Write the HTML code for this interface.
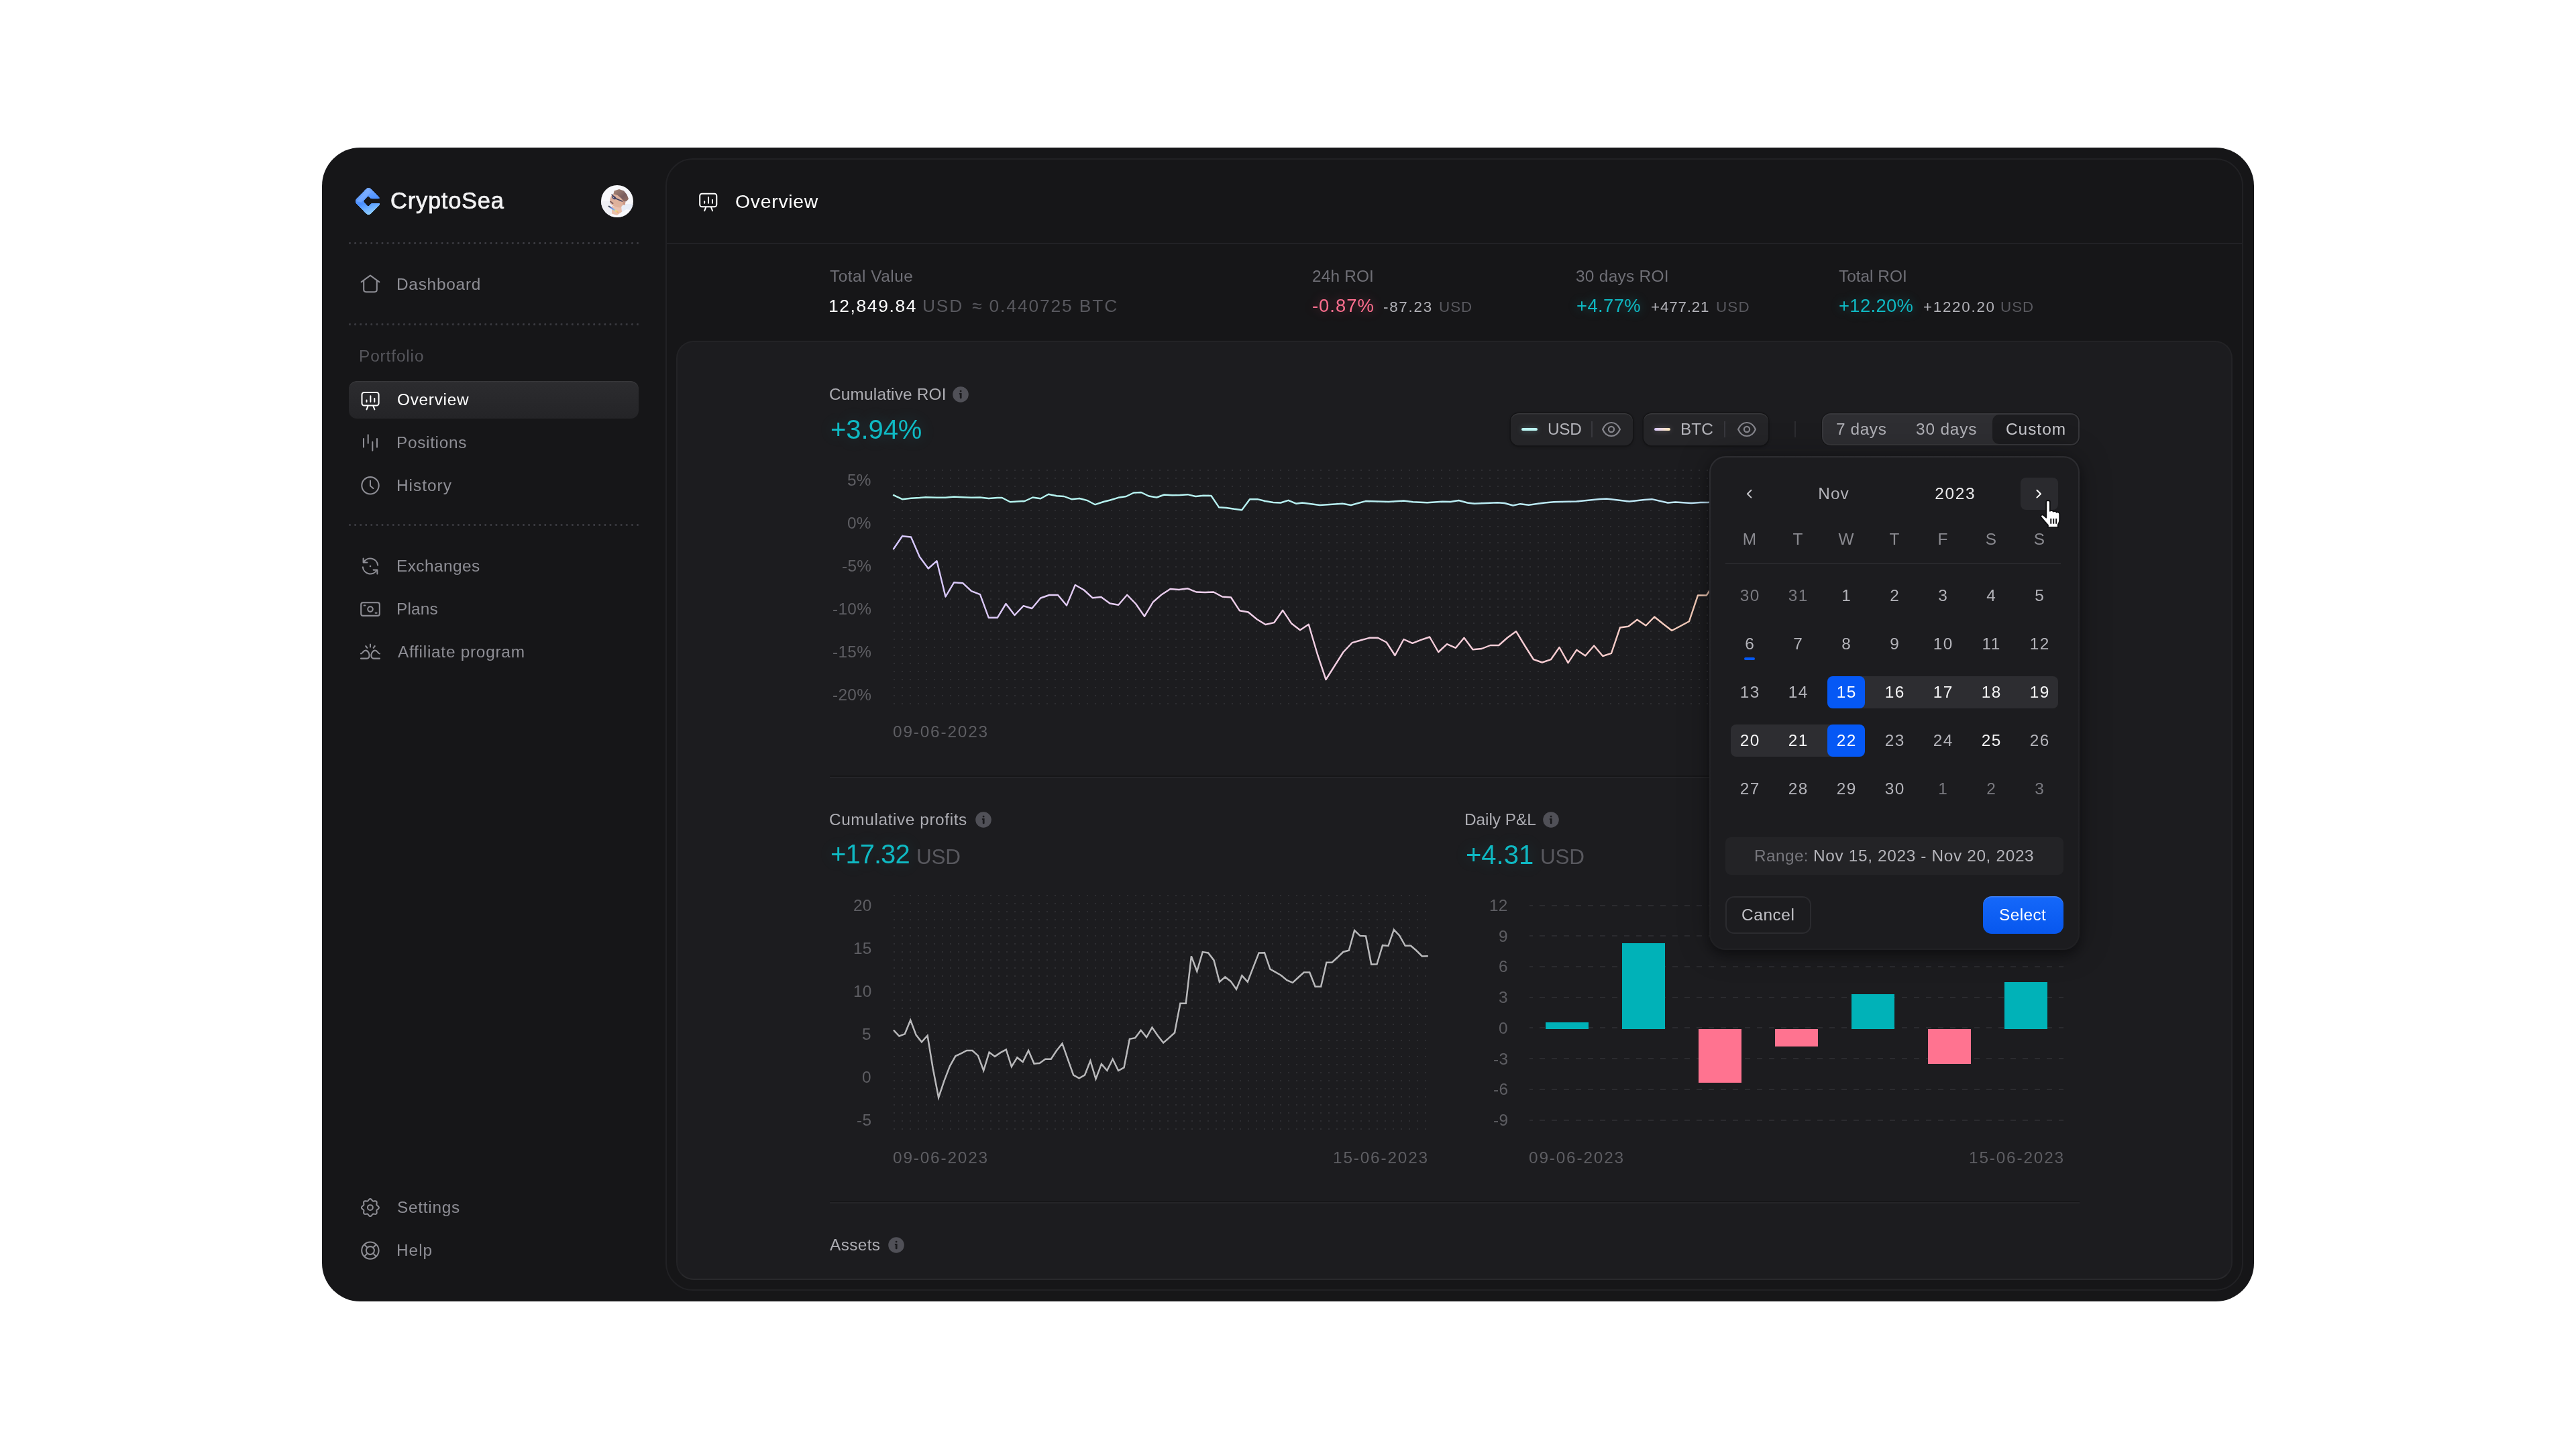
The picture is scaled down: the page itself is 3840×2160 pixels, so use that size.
<!DOCTYPE html>
<html lang="en"><head><meta charset="utf-8"><title>CryptoSea – Overview</title>
<style>
html,body{margin:0;padding:0}
body{width:3840px;height:2160px;background:#fff;position:relative;overflow:hidden;font-family:"Liberation Sans", sans-serif;-webkit-font-smoothing:antialiased}
svg{position:absolute;overflow:visible}
.ic{fill:none;stroke:#8e8e95;stroke-width:2.05;stroke-linecap:round;stroke-linejoin:round}
</style></head><body>
<div style="position:absolute;left:480.0px;top:220.0px;width:2880.0px;height:1720.0px;border-radius:57px;background:#161618;"></div>
<svg style="left:0;top:0" width="3840" height="2160">
<defs><linearGradient id="lg1" gradientUnits="userSpaceOnUse" x1="542" y1="280" x2="556" y2="321"><stop offset="0" stop-color="#7aacff"/><stop offset="0.5" stop-color="#4a8fff"/><stop offset="1" stop-color="#9ad8ff"/></linearGradient>
<filter id="rnd" x="-10%" y="-10%" width="120%" height="120%"><feGaussianBlur stdDeviation="1.1"/><feComponentTransfer><feFuncR type="linear" slope="7" intercept="-3"/><feFuncG type="linear" slope="7" intercept="-3"/><feFuncB type="linear" slope="7" intercept="-3"/></feComponentTransfer></filter>
<mask id="lm" maskUnits="userSpaceOnUse" x="520" y="270" width="60" height="60"><g filter="url(#rnd)"><rect x="520" y="270" width="60" height="60" fill="#000"/>
<path d="M544.92 281.92 Q549.30 277.40 553.68 281.92 L566.82 295.48 Q571.20 300.00 566.82 304.52 L553.68 318.08 Q549.30 322.60 544.92 318.08 L531.78 304.52 Q527.40 300.00 531.78 295.48 Z" fill="#fff"/><path d="M548.76 292.36 Q548.90 292.20 549.04 292.36 L555.96 299.94 Q556.10 300.10 555.96 300.26 L549.04 307.84 Q548.90 308.00 548.76 307.84 L541.84 300.26 Q541.70 300.10 541.84 299.94 Z" fill="#000"/><rect x="552" y="296.6" width="20" height="6.4" fill="#000"/></g></mask></defs>
<rect x="524" y="274" width="50" height="52" fill="url(#lg1)" mask="url(#lm)"/>
<path d="M531.5 300 L548.6 281.6 L553 286.4 L538.6 301.8 Z" fill="#9cc2ff" opacity="0.35" mask="url(#lm)"/>
</svg>
<div id="t1" style="position:absolute;will-change:transform;top:269.0px;height:60px;line-height:60px;font-size:34.50px;color:#f3f3f4;white-space:pre;letter-spacing:0.750px;left:581.50px;-webkit-text-stroke:0.7px #f3f3f4;">CryptoSea</div>
<svg style="left:896px;top:276px" width="48" height="48" viewBox="0 0 48 48">
<defs><clipPath id="avc"><circle cx="24" cy="24" r="24"/></clipPath>
<filter id="avb" x="-10%" y="-10%" width="120%" height="120%"><feGaussianBlur stdDeviation="0.75"/></filter>
<linearGradient id="avh" x1="0" y1="0" x2="1" y2="1"><stop offset="0" stop-color="#a07a66"/><stop offset="0.6" stop-color="#6a4a48"/><stop offset="1" stop-color="#8a5e4e"/></linearGradient>
<linearGradient id="avr" gradientUnits="userSpaceOnUse" x1="11.5" y1="31.5" x2="25" y2="40.5"><stop offset="0" stop-color="#2a2a34"/><stop offset="0.3" stop-color="#5a78e0"/><stop offset="0.55" stop-color="#6ab0e8"/><stop offset="0.75" stop-color="#e6e070"/><stop offset="1" stop-color="#f0a860"/></linearGradient></defs>
<g clip-path="url(#avc)"><rect width="48" height="48" fill="#f7f7fa"/>
<g filter="url(#avb)" opacity="0.88">
<rect x="-2" y="24" width="20" height="26" fill="#eeeef3"/>
<rect x="30" y="28" width="20" height="22" fill="#e6ecf6"/>
<path d="M16 31 L24 32.5 L30 31 L31 40 L24 45 L16 45 Z" fill="#e9b9a2"/>
<path d="M15 16 L19 12.5 L24 13.5 L30 17 L34 22 L34 28 L29 33.5 L24 33 L19 31.5 L14 27.5 L13 22 Z" fill="#dba88f"/>
<path d="M19.5 8.5 L27 6 L34 8.5 L38.5 14 L41 20.5 L38 24 L34.5 25 L30 19.5 L24.5 15 L18.5 13.2 Z" fill="url(#avh)"/>
<path d="M32.5 23.5 L36.5 25 L35.5 30 L32.5 29 Z" fill="#c48a74"/>
<ellipse cx="19.3" cy="18.6" rx="3.3" ry="2.2" transform="rotate(35 19.3 18.6)" fill="#34325a"/><ellipse cx="19.0" cy="18.2" rx="1.3" ry="0.9" transform="rotate(35 19 18.2)" fill="#c8cce0"/>
<path d="M16.2 14.2 L21 19.5 L31.5 24" fill="none" stroke="#2c2a4a" stroke-width="1.7" stroke-linecap="round"/>
<path d="M14 24.6 L17.6 27.2" stroke="#6a4444" stroke-width="1.8" stroke-linecap="round"/>
<path d="M11 49 L16 42.5 L24 45 L31 40 L38 36 L49 38 L49 49 Z" fill="#fbfbfd"/>
<path d="M11.8 31.6 L25 40.4" stroke="url(#avr)" stroke-width="2.3" stroke-linecap="round"/>
</g></g></svg>
<div style="position:absolute;left:520.0px;top:361.0px;width:433.0px;height:3.0px;background:radial-gradient(circle at 1.5px 1.5px,#3a3a40 0,#3a3a40 1.25px,rgba(58,58,64,0) 1.7px) 0 0/8.1px 3px repeat-x;"></div>
<div style="position:absolute;left:520.0px;top:481.5px;width:433.0px;height:3.0px;background:radial-gradient(circle at 1.5px 1.5px,#3a3a40 0,#3a3a40 1.25px,rgba(58,58,64,0) 1.7px) 0 0/8.1px 3px repeat-x;"></div>
<div style="position:absolute;left:520.0px;top:781.0px;width:433.0px;height:3.0px;background:radial-gradient(circle at 1.5px 1.5px,#3a3a40 0,#3a3a40 1.25px,rgba(58,58,64,0) 1.7px) 0 0/8.1px 3px repeat-x;"></div>
<div style="position:absolute;left:520.0px;top:568.0px;width:432.0px;height:56.0px;border-radius:12px;background:linear-gradient(180deg,#2c2c2f 0%,#242427 100%);box-shadow:inset 0 1.5px 0 rgba(255,255,255,0.06);"></div>
<div id="t2" style="position:absolute;will-change:transform;top:393.5px;height:60px;line-height:60px;font-size:24.40px;color:#8e8e95;white-space:pre;letter-spacing:0.750px;left:590.50px;">Dashboard</div>
<div id="t3" style="position:absolute;will-change:transform;top:501.0px;height:60px;line-height:60px;font-size:24.40px;color:#56565c;white-space:pre;letter-spacing:0.875px;left:535.00px;">Portfolio</div>
<div id="t4" style="position:absolute;will-change:transform;top:565.5px;height:60px;line-height:60px;font-size:24.40px;color:#ffffff;white-space:pre;letter-spacing:0.714px;left:591.50px;">Overview</div>
<div id="t5" style="position:absolute;will-change:transform;top:629.5px;height:60px;line-height:60px;font-size:24.40px;color:#8e8e95;white-space:pre;letter-spacing:0.675px;left:590.50px;">Positions</div>
<div id="t6" style="position:absolute;will-change:transform;top:693.5px;height:60px;line-height:60px;font-size:24.40px;color:#8e8e95;white-space:pre;letter-spacing:1.000px;left:590.50px;">History</div>
<div id="t7" style="position:absolute;will-change:transform;top:813.5px;height:60px;line-height:60px;font-size:24.40px;color:#8e8e95;white-space:pre;letter-spacing:0.425px;left:590.50px;">Exchanges</div>
<div id="t8" style="position:absolute;will-change:transform;top:877.5px;height:60px;line-height:60px;font-size:24.40px;color:#8e8e95;white-space:pre;letter-spacing:0.200px;left:590.50px;">Plans</div>
<div id="t9" style="position:absolute;will-change:transform;top:941.5px;height:60px;line-height:60px;font-size:24.40px;color:#8e8e95;white-space:pre;letter-spacing:0.738px;left:592.50px;">Affiliate program</div>
<div id="t10" style="position:absolute;will-change:transform;top:1769.5px;height:60px;line-height:60px;font-size:24.40px;color:#8e8e95;white-space:pre;letter-spacing:0.714px;left:592.00px;">Settings</div>
<div id="t11" style="position:absolute;will-change:transform;top:1833.5px;height:60px;line-height:60px;font-size:24.40px;color:#8e8e95;white-space:pre;letter-spacing:1.000px;left:591.00px;">Help</div>
<svg style="left:0;top:0" width="3840" height="2160"><path class="ic" d="M538.6 420.4 L552 410.6 L565.4 420.4"/><path class="ic" d="M542.2 418.6 V431.6 Q542.2 435.2 545.8 435.2 H558.2 Q561.8 435.2 561.8 431.6 V418.6"/><path class="ic" d="M542 654 V666.6 M548.7 648.2 V660.8 M555.3 658.8 V671.6 M562 654 V666.6"/><circle class="ic" cx="552" cy="723.8" r="12.7"/><path class="ic" d="M552 716.6 V724.2 L556.4 728"/><path class="ic" d="M542.2 838.2 A11.3 11.3 0 0 1 563.2 842.6"/><path class="ic" d="M561.8 849.8 A11.3 11.3 0 0 1 540.8 845.4"/><path class="ic" d="M541.6 832.6 V838.4 H547.4"/><path class="ic" d="M562.4 855.4 V849.6 H556.6"/><circle cx="552" cy="844" r="1.3" fill="#8e8e95"/><rect class="ic" x="538.2" y="898.3" width="27.6" height="19.6" rx="3"/><circle class="ic" cx="552" cy="908.1" r="3.8"/><path class="ic" d="M542.6 902.4 H544.4 M559.6 913.8 H561.6"/><path class="ic" d="M552 960.4 V964.4 M545.2 963 L547.4 965.8 M558.8 963 L556.6 965.8"/><path class="ic" d="M538 974.4 C540.5 974.6 541.2 969.6 545 969.6 C547.2 969.6 548.6 971.2 549.6 973 C551.4 976.6 551 981.6 546.4 981.6 H538"/><path class="ic" d="M566 974.4 C563.5 974.6 562.8 969.6 559 969.6 C556.8 969.6 555.4 971.2 554.4 973 C552.6 976.6 553 981.6 557.6 981.6 H566"/><path class="ic" d="M551.90 1787.10 L552.74 1787.30 L553.51 1787.86 L554.18 1788.62 L554.76 1789.43 L555.30 1790.09 L555.88 1790.49 L556.58 1790.62 L557.42 1790.53 L558.40 1790.37 L559.42 1790.30 L560.36 1790.46 L561.09 1790.91 L561.54 1791.64 L561.70 1792.58 L561.63 1793.60 L561.47 1794.57 L561.38 1795.42 L561.51 1796.12 L561.91 1796.70 L562.57 1797.24 L563.38 1797.82 L564.14 1798.49 L564.70 1799.26 L564.90 1800.10 L564.70 1800.94 L564.14 1801.71 L563.38 1802.38 L562.57 1802.96 L561.91 1803.50 L561.51 1804.08 L561.38 1804.78 L561.47 1805.62 L561.63 1806.60 L561.70 1807.62 L561.54 1808.56 L561.09 1809.29 L560.36 1809.74 L559.42 1809.90 L558.40 1809.83 L557.42 1809.67 L556.58 1809.58 L555.88 1809.71 L555.30 1810.11 L554.76 1810.77 L554.18 1811.58 L553.51 1812.34 L552.74 1812.90 L551.90 1813.10 L551.06 1812.90 L550.29 1812.34 L549.62 1811.58 L549.04 1810.77 L548.50 1810.11 L547.92 1809.71 L547.22 1809.58 L546.38 1809.67 L545.40 1809.83 L544.38 1809.90 L543.44 1809.74 L542.71 1809.29 L542.26 1808.56 L542.10 1807.62 L542.17 1806.60 L542.33 1805.62 L542.42 1804.78 L542.29 1804.08 L541.89 1803.50 L541.23 1802.96 L540.42 1802.38 L539.66 1801.71 L539.10 1800.94 L538.90 1800.10 L539.10 1799.26 L539.66 1798.49 L540.42 1797.82 L541.23 1797.24 L541.89 1796.70 L542.29 1796.12 L542.42 1795.42 L542.33 1794.57 L542.17 1793.60 L542.10 1792.58 L542.26 1791.64 L542.71 1790.91 L543.44 1790.46 L544.38 1790.30 L545.40 1790.37 L546.38 1790.53 L547.22 1790.62 L547.92 1790.49 L548.50 1790.09 L549.04 1789.43 L549.62 1788.62 L550.29 1787.86 L551.06 1787.30 L551.90 1787.10 Z"/><circle class="ic" cx="551.90" cy="1800.10" r="3.9"/><circle class="ic" cx="551.9" cy="1864.1" r="12.7"/><circle class="ic" cx="551.9" cy="1864.1" r="6"/><path class="ic" d="M543 1855.2 L547.6 1859.8 M560.8 1855.2 L556.2 1859.8 M543 1873 L547.6 1868.4 M560.8 1873 L556.2 1868.4"/></svg>
<svg style="left:0;top:0" width="3840" height="2160"><g fill="none" stroke="#ffffff" stroke-width="2.0" stroke-linecap="round" stroke-linejoin="round"><rect x="539.50" y="585.00" width="25.1" height="19.4" rx="3.2"/><path d="M546.50 596.40 v2.6 M552.35 590.20 v8.8 M558.30 594.10 v4.9 M548.50 605.40 l-2 5 M556.40 605.40 l2 5"/></g></svg>
<div style="position:absolute;left:992.0px;top:236.0px;width:2352.0px;height:1688.0px;box-sizing:border-box;border:2px solid #212124;border-radius:41px;background:#161618;"></div>
<div style="position:absolute;left:994.0px;top:362.0px;width:2348.0px;height:2.0px;background:#222225;"></div>
<svg style="left:0;top:0" width="3840" height="2160"><g fill="none" stroke="#ffffff" stroke-width="2.0" stroke-linecap="round" stroke-linejoin="round"><rect x="1043.20" y="288.80" width="25.1" height="19.4" rx="3.2"/><path d="M1050.20 300.20 v2.6 M1056.05 294.00 v8.8 M1062.00 297.90 v4.9 M1052.20 309.20 l-2 5 M1060.10 309.20 l2 5"/></g></svg>
<div id="t12" style="position:absolute;will-change:transform;top:270.4px;height:60px;line-height:60px;font-size:28.40px;color:#ffffff;white-space:pre;letter-spacing:0.714px;left:1096.00px;">Overview</div>
<div id="t13" style="position:absolute;will-change:transform;top:381.5px;height:60px;line-height:60px;font-size:24.40px;color:#6f6f76;white-space:pre;letter-spacing:0.500px;left:1237.00px;">Total Value</div>
<div id="t14" style="position:absolute;will-change:transform;top:426.4px;height:60px;line-height:60px;font-size:26.40px;color:#ffffff;white-space:pre;letter-spacing:1.625px;left:1235.00px;">12,849.84</div>
<div id="t15" style="position:absolute;will-change:transform;top:426.4px;height:60px;line-height:60px;font-size:26.40px;color:#58585e;white-space:pre;letter-spacing:1.800px;left:1375.00px;">USD</div>
<div id="t16" style="position:absolute;will-change:transform;top:426.4px;height:60px;line-height:60px;font-size:26.40px;color:#58585e;white-space:pre;letter-spacing:1.877px;left:1448.50px;">≈ 0.440725 BTC</div>
<div id="t17" style="position:absolute;will-change:transform;top:381.5px;height:60px;line-height:60px;font-size:24.40px;color:#6f6f76;white-space:pre;letter-spacing:0.167px;left:1956.00px;">24h ROI</div>
<div id="t18" style="position:absolute;will-change:transform;top:426.0px;height:60px;line-height:60px;font-size:27.40px;color:#ff6f8f;white-space:pre;letter-spacing:1.000px;left:1956.00px;text-shadow:0 0 16px rgba(255,90,130,0.35);">-0.87%</div>
<div id="t19" style="position:absolute;will-change:transform;top:427.6px;height:60px;line-height:60px;font-size:22.40px;color:#b2b2b8;white-space:pre;letter-spacing:1.720px;left:2062.00px;">-87.23</div>
<div id="t20" style="position:absolute;will-change:transform;top:427.6px;height:60px;line-height:60px;font-size:22.40px;color:#58585e;white-space:pre;letter-spacing:1.000px;left:2144.50px;">USD</div>
<div id="t21" style="position:absolute;will-change:transform;top:381.5px;height:60px;line-height:60px;font-size:24.40px;color:#6f6f76;white-space:pre;letter-spacing:0.300px;left:2348.50px;">30 days ROI</div>
<div id="t22" style="position:absolute;will-change:transform;top:426.0px;height:60px;line-height:60px;font-size:27.40px;color:#0fb9c3;white-space:pre;letter-spacing:0.400px;left:2349.50px;text-shadow:0 0 16px rgba(20,200,210,0.35);">+4.77%</div>
<div id="t23" style="position:absolute;will-change:transform;top:427.6px;height:60px;line-height:60px;font-size:22.40px;color:#b2b2b8;white-space:pre;letter-spacing:0.833px;left:2461.00px;">+477.21</div>
<div id="t24" style="position:absolute;will-change:transform;top:427.6px;height:60px;line-height:60px;font-size:22.40px;color:#58585e;white-space:pre;letter-spacing:1.200px;left:2557.80px;">USD</div>
<div id="t25" style="position:absolute;will-change:transform;top:381.5px;height:60px;line-height:60px;font-size:24.40px;color:#6f6f76;white-space:pre;left:2741.00px;">Total ROI</div>
<div id="t26" style="position:absolute;will-change:transform;top:426.0px;height:60px;line-height:60px;font-size:27.40px;color:#0fb9c3;white-space:pre;letter-spacing:0.333px;left:2740.50px;text-shadow:0 0 16px rgba(20,200,210,0.35);">+12.20%</div>
<div id="t27" style="position:absolute;will-change:transform;top:427.6px;height:60px;line-height:60px;font-size:22.40px;color:#b2b2b8;white-space:pre;letter-spacing:1.714px;left:2867.00px;">+1220.20</div>
<div id="t28" style="position:absolute;will-change:transform;top:427.6px;height:60px;line-height:60px;font-size:22.40px;color:#58585e;white-space:pre;letter-spacing:1.000px;left:2982.00px;">USD</div>
<div style="position:absolute;left:1008.0px;top:508.0px;width:2320.0px;height:1400.0px;box-sizing:border-box;border:2px solid #232326;border-bottom-color:#29292c;border-radius:26px;background:#1c1c1f;"></div>
<div id="t29" style="position:absolute;will-change:transform;top:558.0px;height:60px;line-height:60px;font-size:24.40px;color:#adadb3;white-space:pre;letter-spacing:0.185px;left:1236.00px;">Cumulative ROI</div>
<svg style="left:1419.8px;top:576.0px" width="24" height="24" viewBox="0 0 24 24"><circle cx="12" cy="12" r="11.8" fill="#505057"/><circle cx="12.1" cy="7.1" r="1.45" fill="#19191c"/><path d="M9.9 10 H13.6 V16.9 Q13.6 18.3 12.2 18.3 Q10.8 18.3 10.8 16.9 V12 H9.9 Z" fill="#19191c"/></svg>
<div id="t30" style="position:absolute;will-change:transform;top:609.5px;height:60px;line-height:60px;font-size:40.00px;color:#0fb9c3;white-space:pre;letter-spacing:-0.080px;left:1237.60px;text-shadow:0 0 24px rgba(20,200,210,0.22);">+3.94%</div>
<div id="t31" style="position:absolute;will-change:transform;top:1192.0px;height:60px;line-height:60px;font-size:24.40px;color:#adadb3;white-space:pre;letter-spacing:0.588px;left:1236.00px;">Cumulative profits</div>
<svg style="left:1453.9px;top:1210.0px" width="24" height="24" viewBox="0 0 24 24"><circle cx="12" cy="12" r="11.8" fill="#505057"/><circle cx="12.1" cy="7.1" r="1.45" fill="#19191c"/><path d="M9.9 10 H13.6 V16.9 Q13.6 18.3 12.2 18.3 Q10.8 18.3 10.8 16.9 V12 H9.9 Z" fill="#19191c"/></svg>
<div id="t32" style="position:absolute;will-change:transform;top:1243.4px;height:60px;line-height:60px;font-size:40.00px;color:#0fb9c3;white-space:pre;letter-spacing:-0.960px;left:1237.60px;text-shadow:0 0 24px rgba(20,200,210,0.22);">+17.32</div>
<div id="t33" style="position:absolute;will-change:transform;top:1246.5px;height:60px;line-height:60px;font-size:31.50px;color:#58585e;white-space:pre;letter-spacing:-0.200px;left:1366.40px;">USD</div>
<div id="t34" style="position:absolute;will-change:transform;top:1192.0px;height:60px;line-height:60px;font-size:24.40px;color:#adadb3;white-space:pre;letter-spacing:-0.050px;left:2183.00px;">Daily P&amp;L</div>
<svg style="left:2300.0px;top:1210.0px" width="24" height="24" viewBox="0 0 24 24"><circle cx="12" cy="12" r="11.8" fill="#505057"/><circle cx="12.1" cy="7.1" r="1.45" fill="#19191c"/><path d="M9.9 10 H13.6 V16.9 Q13.6 18.3 12.2 18.3 Q10.8 18.3 10.8 16.9 V12 H9.9 Z" fill="#19191c"/></svg>
<div id="t35" style="position:absolute;will-change:transform;top:1243.5px;height:60px;line-height:60px;font-size:40.00px;color:#0fb9c3;white-space:pre;left:2185.00px;text-shadow:0 0 24px rgba(20,200,210,0.22);">+4.31</div>
<div id="t36" style="position:absolute;will-change:transform;top:1246.5px;height:60px;line-height:60px;font-size:31.50px;color:#58585e;white-space:pre;letter-spacing:-0.300px;left:2295.50px;">USD</div>
<div id="t37" style="position:absolute;will-change:transform;top:1826.0px;height:60px;line-height:60px;font-size:24.40px;color:#adadb3;white-space:pre;letter-spacing:0.360px;left:1237.00px;">Assets</div>
<svg style="left:1323.6px;top:1844.0px" width="24" height="24" viewBox="0 0 24 24"><circle cx="12" cy="12" r="11.8" fill="#505057"/><circle cx="12.1" cy="7.1" r="1.45" fill="#19191c"/><path d="M9.9 10 H13.6 V16.9 Q13.6 18.3 12.2 18.3 Q10.8 18.3 10.8 16.9 V12 H9.9 Z" fill="#19191c"/></svg>
<div style="position:absolute;left:1237.0px;top:1156.0px;width:1863.0px;height:2.0px;background:#161618;"></div>
<div style="position:absolute;left:1237.0px;top:1158.0px;width:1863.0px;height:2.0px;background:#252528;"></div>
<div style="position:absolute;left:1237.0px;top:1790.0px;width:1863.0px;height:2.0px;background:#161618;"></div>
<div style="position:absolute;left:1237.0px;top:1792.0px;width:1863.0px;height:2.0px;background:#252528;"></div>
<div style="position:absolute;left:2252.0px;top:616.0px;width:182.0px;height:48.0px;border-radius:12px;background:#252528;box-shadow:0 0 0 1.5px #141416,inset 0 1.5px 0 rgba(255,255,255,0.09),0 2px 4px rgba(0,0,0,0.35);"></div>
<div style="position:absolute;left:2268.0px;top:638.0px;width:24.0px;height:4.0px;border-radius:2px;background:#bcf6f3;box-shadow:0 0 8px rgba(170,240,240,0.35);"></div>
<div id="t38" style="position:absolute;will-change:transform;top:610.0px;height:60px;line-height:60px;font-size:24.40px;color:#b4b4ba;white-space:pre;letter-spacing:-0.300px;left:2306.80px;">USD</div>
<div style="position:absolute;left:2372.0px;top:628.0px;width:2.0px;height:24.0px;background:#38383d;"></div>
<svg style="left:2387.0px;top:628.0px" width="30" height="24" viewBox="-15 -12 30 24"><g fill="none" stroke="#85858c" stroke-width="2.2" stroke-linejoin="round"><path d="M-12.9 0 C-10.4 -5.8 -5.6 -10 0 -10 C5.6 -10 10.4 -5.8 12.9 0 C10.4 5.8 5.6 10 0 10 C-5.6 10 -10.4 5.8 -12.9 0 Z"/><circle cx="0" cy="0" r="4.1"/></g></svg>
<div style="position:absolute;left:2450.0px;top:616.0px;width:186.0px;height:48.0px;border-radius:12px;background:#252528;box-shadow:0 0 0 1.5px #141416,inset 0 1.5px 0 rgba(255,255,255,0.09),0 2px 4px rgba(0,0,0,0.35);"></div>
<div style="position:absolute;left:2466.0px;top:638.0px;width:24.0px;height:4.0px;border-radius:2px;background:linear-gradient(90deg,#d9c9ff,#ffe9b8);box-shadow:0 0 8px rgba(240,220,230,0.3);"></div>
<div id="t39" style="position:absolute;will-change:transform;top:610.0px;height:60px;line-height:60px;font-size:24.40px;color:#b4b4ba;white-space:pre;left:2505.00px;">BTC</div>
<div style="position:absolute;left:2570.0px;top:628.0px;width:2.0px;height:24.0px;background:#38383d;"></div>
<svg style="left:2589.0px;top:628.0px" width="30" height="24" viewBox="-15 -12 30 24"><g fill="none" stroke="#85858c" stroke-width="2.2" stroke-linejoin="round"><path d="M-12.9 0 C-10.4 -5.8 -5.6 -10 0 -10 C5.6 -10 10.4 -5.8 12.9 0 C10.4 5.8 5.6 10 0 10 C-5.6 10 -10.4 5.8 -12.9 0 Z"/><circle cx="0" cy="0" r="4.1"/></g></svg>
<div style="position:absolute;left:2675.0px;top:628.0px;width:2.0px;height:24.0px;background:#2c2c30;"></div>
<div style="position:absolute;left:2716.0px;top:616.0px;width:384.0px;height:48.0px;box-sizing:border-box;border-radius:13px;background:#2e2e32;border:2px solid #37373b;box-shadow:0 0 0 1px #151517;"></div>
<div style="position:absolute;left:2970.0px;top:618.0px;width:128.0px;height:44.0px;border-radius:10px 11px 11px 10px;background:#1c1c1f;"></div>
<div id="t40" style="position:absolute;will-change:transform;top:610.0px;height:60px;line-height:60px;font-size:24.40px;color:#b0b0b6;white-space:pre;letter-spacing:0.600px;left:2737.00px;">7 days</div>
<div id="t41" style="position:absolute;will-change:transform;top:610.0px;height:60px;line-height:60px;font-size:24.40px;color:#b0b0b6;white-space:pre;letter-spacing:0.833px;left:2856.00px;">30 days</div>
<div id="t42" style="position:absolute;will-change:transform;top:610.0px;height:60px;line-height:60px;font-size:24.40px;color:#c8c8cd;white-space:pre;letter-spacing:1.000px;left:2989.50px;">Custom</div>
<div style="position:absolute;left:1332.0px;top:700.0px;width:1768.0px;height:351.0px;background:radial-gradient(circle at 1px 1px,#2e2e32 0,#2e2e32 0.9px,rgba(46,46,50,0) 1.4px) 0 0/12px 12px;"></div>
<div id="t43" style="position:absolute;will-change:transform;top:685.5px;height:60px;line-height:60px;font-size:24.40px;color:#5e5e63;white-space:pre;letter-spacing:0.300px;right:2541.0px;text-align:right;margin-right:-0.300px;">5%</div>
<div id="t44" style="position:absolute;will-change:transform;top:749.5px;height:60px;line-height:60px;font-size:24.40px;color:#5e5e63;white-space:pre;letter-spacing:0.300px;right:2541.0px;text-align:right;margin-right:-0.300px;">0%</div>
<div id="t45" style="position:absolute;will-change:transform;top:813.5px;height:60px;line-height:60px;font-size:24.40px;color:#5e5e63;white-space:pre;letter-spacing:0.300px;right:2541.0px;text-align:right;margin-right:-0.300px;">-5%</div>
<div id="t46" style="position:absolute;will-change:transform;top:877.5px;height:60px;line-height:60px;font-size:24.40px;color:#5e5e63;white-space:pre;letter-spacing:0.300px;right:2541.0px;text-align:right;margin-right:-0.300px;">-10%</div>
<div id="t47" style="position:absolute;will-change:transform;top:941.5px;height:60px;line-height:60px;font-size:24.40px;color:#5e5e63;white-space:pre;letter-spacing:0.300px;right:2541.0px;text-align:right;margin-right:-0.300px;">-15%</div>
<div id="t48" style="position:absolute;will-change:transform;top:1005.5px;height:60px;line-height:60px;font-size:24.40px;color:#5e5e63;white-space:pre;letter-spacing:0.300px;right:2541.0px;text-align:right;margin-right:-0.300px;">-20%</div>
<div id="t49" style="position:absolute;will-change:transform;top:1061.4px;height:60px;line-height:60px;font-size:24.40px;color:#5e5e63;white-space:pre;letter-spacing:1.822px;left:1331.00px;">09-06-2023</div>
<div id="t50" style="position:absolute;will-change:transform;top:1061.4px;height:60px;line-height:60px;font-size:24.40px;color:#5e5e63;white-space:pre;letter-spacing:1.822px;right:740.0px;text-align:right;margin-right:-1.822px;">15-06-2023</div>
<svg style="left:0;top:0" width="3840" height="2160"><defs>
<linearGradient id="gbtc" gradientUnits="userSpaceOnUse" x1="1332" y1="0" x2="2600" y2="0"><stop offset="0" stop-color="#d6c8ff"/><stop offset="0.45" stop-color="#f1cfe6"/><stop offset="0.8" stop-color="#f8ccd0"/><stop offset="1" stop-color="#f5cdb0"/></linearGradient>
<linearGradient id="gusd" gradientUnits="userSpaceOnUse" x1="1332" y1="0" x2="2600" y2="0"><stop offset="0" stop-color="#b4f5ee"/><stop offset="0.6" stop-color="#b8eef2"/><stop offset="1" stop-color="#bfe2f6"/></linearGradient></defs>
<path d="M1332.0 738.2 L1345.0 744.2 L1358.0 742.8 L1370.8 742.0 L1380.0 741.2 L1396.5 741.8 L1409.5 741.8 L1422.2 740.5 L1435.2 741.2 L1448.0 741.8 L1461.0 741.5 L1473.8 743.0 L1486.8 742.0 L1493.8 742.0 L1505.8 748.2 L1517.5 747.5 L1527.5 747.0 L1539.5 741.5 L1551.2 743.2 L1563.0 736.8 L1575.0 739.2 L1586.2 740.0 L1597.5 744.2 L1609.2 743.0 L1621.2 746.2 L1632.5 752.2 L1645.0 748.0 L1655.0 745.5 L1667.0 741.8 L1678.8 740.0 L1690.0 734.5 L1701.2 734.0 L1712.5 739.5 L1724.2 741.5 L1735.5 737.5 L1747.5 738.2 L1758.8 738.0 L1770.5 737.2 L1782.5 740.0 L1793.8 738.8 L1805.5 739.0 L1817.0 756.2 L1828.0 757.0 L1840.0 758.8 L1851.2 760.2 L1863.0 744.2 L1874.5 744.2 L1886.2 747.0 L1898.0 749.0 L1909.0 749.5 L1920.5 745.8 L1932.5 750.8 L1941.2 749.5 L1967.5 753.0 L2001.2 750.8 L2013.8 753.0 L2036.2 747.0 L2070.0 748.0 L2092.5 746.5 L2106.2 748.2 L2127.5 749.2 L2150.0 747.8 L2162.5 748.0 L2174.5 746.0 L2187.5 749.5 L2197.5 750.8 L2232.5 749.2 L2242.5 750.0 L2255.5 753.5 L2266.2 751.2 L2278.8 752.8 L2302.5 749.5 L2316.2 748.2 L2350.0 747.5 L2385.0 744.0 L2395.0 743.5 L2428.8 747.5 L2451.2 745.0 L2462.5 744.2 L2486.2 749.5 L2497.5 748.5 L2521.2 750.0 L2535.0 749.0 L2546.2 749.0 L2558.9 747.0 L2571.7 750.0 L2584.3 748.0 L2597.1 751.0 L2609.8 749.0 L2622.4 747.0 L2635.2 746.0 L2647.8 748.0 L2660.6 750.0 L2673.2 749.0 L2685.9 749.0 L2698.7 747.0 L2711.3 750.0 L2724.1 748.0 L2736.8 751.0 L2749.4 749.0 L2762.2 747.0 L2774.8 746.0 L2787.6 748.0 L2800.2 750.0 L2812.9 749.0 L2825.7 749.0 L2838.3 747.0 L2851.1 750.0 L2863.8 748.0 L2876.4 751.0 L2889.2 749.0 L2901.8 747.0 L2914.6 746.0 L2927.2 748.0 L2939.9 750.0 L2952.7 749.0 L2965.3 749.0 L2978.1 747.0 L2990.8 750.0 L3003.4 748.0 L3016.2 751.0 L3028.8 749.0 L3041.6 747.0 L3054.2 746.0 L3066.9 748.0 L3079.7 750.0 L3092.3 749.0" fill="none" stroke="url(#gusd)" stroke-width="2.4" stroke-linejoin="round" stroke-linecap="round"/>
<path d="M1332.0 818.2 L1345.0 799.2 L1358.0 800.5 L1370.8 830.0 L1383.8 847.5 L1396.5 836.2 L1409.5 889.5 L1422.2 868.2 L1435.2 869.2 L1448.0 881.2 L1461.0 886.2 L1473.8 920.8 L1486.8 920.8 L1499.5 900.0 L1512.5 917.0 L1525.5 903.2 L1538.2 907.0 L1551.2 891.5 L1564.2 887.0 L1577.0 887.0 L1590.0 902.5 L1602.8 872.0 L1615.8 879.5 L1628.5 891.2 L1641.5 890.0 L1654.5 899.5 L1667.2 901.8 L1680.2 886.8 L1693.0 900.0 L1706.0 918.8 L1718.8 897.5 L1731.8 886.2 L1744.5 878.0 L1757.5 879.0 L1770.2 877.2 L1783.2 882.5 L1796.2 883.0 L1809.0 882.5 L1822.0 889.5 L1835.0 890.5 L1847.8 910.2 L1860.8 912.5 L1873.5 923.0 L1886.5 931.0 L1899.2 928.2 L1912.2 909.8 L1925.0 929.2 L1938.0 939.2 L1950.8 930.8 L1963.8 975.0 L1976.5 1013.0 L1989.5 992.5 L2002.5 972.0 L2015.5 958.2 L2028.2 954.5 L2041.2 950.8 L2054.0 950.8 L2066.8 957.5 L2079.5 977.0 L2092.5 953.0 L2105.5 958.8 L2118.2 953.8 L2131.2 949.5 L2144.2 972.0 L2157.0 960.2 L2170.0 965.8 L2182.5 950.8 L2195.5 968.2 L2208.8 967.0 L2221.5 962.0 L2234.2 962.0 L2247.2 950.5 L2260.0 941.2 L2273.0 962.5 L2286.0 983.0 L2298.8 987.5 L2311.8 983.2 L2324.5 965.0 L2337.5 988.2 L2350.2 968.8 L2363.2 977.5 L2376.2 962.5 L2389.2 978.0 L2402.0 973.8 L2415.0 935.5 L2427.5 933.8 L2440.5 923.8 L2453.5 932.5 L2466.2 919.5 L2479.2 930.0 L2492.2 940.0 L2505.0 933.2 L2518.0 926.2 L2531.0 887.5 L2543.8 887.5 L2556.7 868.3 L2569.6 852.7 L2582.4 863.5 L2595.3 842.5 L2608.2 829.9 L2621.2 839.5 L2634.1 821.5 L2646.9 829.9 L2659.8 810.7 L2672.8 816.7 L2685.7 803.5 L2698.6 814.3 L2711.4 797.5 L2724.3 804.7 L2737.2 791.5 L2750.2 798.1 L2763.1 785.5 L2775.9 792.7 L2788.8 778.3 L2801.8 781.9 L2814.7 773.5 L2827.6 778.9 L2840.4 767.5 L2853.3 774.7 L2866.2 764.5 L2879.2 769.9 L2892.1 759.1 L2904.9 765.1 L2917.8 755.5 L2930.8 760.3 L2943.7 751.9 L2956.6 756.1 L2969.4 748.3 L2982.3 753.1 L2995.2 744.7 L3008.2 749.5 L3021.1 742.3 L3033.9 745.9 L3046.8 739.9 L3059.8 743.5 L3072.7 737.5 L3085.6 741.1" fill="none" stroke="url(#gbtc)" stroke-width="2.4" stroke-linejoin="round" stroke-linecap="round"/>
</svg>
<div style="position:absolute;left:1332.0px;top:1334.0px;width:796.0px;height:351.0px;background:radial-gradient(circle at 1px 1px,#2e2e32 0,#2e2e32 0.9px,rgba(46,46,50,0) 1.4px) 0 0/12px 12px;"></div>
<div id="t51" style="position:absolute;will-change:transform;top:1319.5px;height:60px;line-height:60px;font-size:24.40px;color:#5e5e63;white-space:pre;letter-spacing:0.300px;right:2541.0px;text-align:right;margin-right:-0.300px;">20</div>
<div id="t52" style="position:absolute;will-change:transform;top:1383.5px;height:60px;line-height:60px;font-size:24.40px;color:#5e5e63;white-space:pre;letter-spacing:0.300px;right:2541.0px;text-align:right;margin-right:-0.300px;">15</div>
<div id="t53" style="position:absolute;will-change:transform;top:1447.5px;height:60px;line-height:60px;font-size:24.40px;color:#5e5e63;white-space:pre;letter-spacing:0.300px;right:2541.0px;text-align:right;margin-right:-0.300px;">10</div>
<div id="t54" style="position:absolute;will-change:transform;top:1511.5px;height:60px;line-height:60px;font-size:24.40px;color:#5e5e63;white-space:pre;letter-spacing:0.300px;right:2541.0px;text-align:right;margin-right:-0.300px;">5</div>
<div id="t55" style="position:absolute;will-change:transform;top:1575.5px;height:60px;line-height:60px;font-size:24.40px;color:#5e5e63;white-space:pre;letter-spacing:0.300px;right:2541.0px;text-align:right;margin-right:-0.300px;">0</div>
<div id="t56" style="position:absolute;will-change:transform;top:1639.5px;height:60px;line-height:60px;font-size:24.40px;color:#5e5e63;white-space:pre;letter-spacing:0.300px;right:2541.0px;text-align:right;margin-right:-0.300px;">-5</div>
<div id="t57" style="position:absolute;will-change:transform;top:1695.6px;height:60px;line-height:60px;font-size:24.40px;color:#5e5e63;white-space:pre;letter-spacing:1.822px;left:1331.00px;">09-06-2023</div>
<div id="t58" style="position:absolute;will-change:transform;top:1695.6px;height:60px;line-height:60px;font-size:24.40px;color:#5e5e63;white-space:pre;letter-spacing:1.822px;right:1712.0px;text-align:right;margin-right:-1.822px;">15-06-2023</div>
<svg style="left:0;top:0" width="3840" height="2160"><path d="M1332.0 1535.5 L1340.4 1544.5 L1348.8 1541.3 L1357.2 1520.6 L1365.6 1542.9 L1373.9 1553.4 L1382.6 1543.7 L1390.7 1592.7 L1399.1 1636.0 L1407.5 1611.1 L1415.9 1589.3 L1424.3 1574.3 L1432.7 1570.4 L1441.1 1566.0 L1449.5 1566.0 L1457.9 1573.6 L1466.2 1595.8 L1474.6 1568.6 L1483.0 1574.9 L1491.4 1569.1 L1499.8 1564.6 L1507.9 1590.1 L1516.3 1576.4 L1524.7 1583.0 L1533.1 1566.0 L1541.5 1585.6 L1549.9 1584.8 L1558.3 1578.8 L1566.7 1578.8 L1575.1 1566.0 L1583.5 1555.5 L1591.8 1579.1 L1600.2 1602.7 L1608.6 1607.4 L1617.0 1602.7 L1625.4 1581.4 L1633.5 1608.4 L1641.9 1586.1 L1650.3 1595.8 L1658.7 1578.8 L1667.1 1596.1 L1675.5 1591.4 L1683.9 1548.9 L1692.3 1547.1 L1700.7 1535.8 L1709.1 1546.3 L1717.4 1531.6 L1725.8 1543.7 L1734.2 1554.4 L1742.6 1547.1 L1751.0 1539.5 L1759.4 1495.7 L1767.8 1495.7 L1775.9 1425.4 L1784.3 1448.0 L1792.7 1419.1 L1801.1 1420.4 L1809.5 1431.4 L1817.9 1463.7 L1826.3 1456.4 L1834.7 1462.9 L1843.0 1474.7 L1851.4 1454.3 L1859.8 1463.7 L1868.2 1441.9 L1876.6 1420.4 L1885.0 1420.2 L1893.4 1444.6 L1909.8 1454.0 L1918.4 1461.2 L1926.9 1464.9 L1935.4 1457.0 L1943.7 1449.5 L1952.2 1449.5 L1960.6 1470.8 L1969.1 1470.8 L1977.4 1434.7 L1985.5 1434.7 L1993.7 1427.3 L2002.3 1419.0 L2010.8 1416.8 L2019.1 1386.9 L2027.6 1395.1 L2036.0 1395.4 L2044.2 1437.6 L2052.5 1437.3 L2061.0 1409.2 L2069.5 1409.9 L2077.8 1385.9 L2086.2 1394.7 L2094.7 1409.8 L2103.0 1409.8 L2111.4 1417.0 L2119.9 1425.5 L2128.8 1425.3" fill="none" stroke="#b9b9bb" stroke-width="2.5" stroke-linejoin="miter" stroke-linecap="butt"/></svg>
<div id="t59" style="position:absolute;will-change:transform;top:1320.0px;height:60px;line-height:60px;font-size:24.40px;color:#5e5e63;white-space:pre;letter-spacing:0.300px;right:1592.5px;text-align:right;margin-right:-0.300px;">12</div>
<div style="position:absolute;left:2280.0px;top:1348.5px;width:796.0px;height:2.0px;background:repeating-linear-gradient(90deg,#2b2b2f 0,#2b2b2f 5px,rgba(0,0,0,0) 5px,rgba(0,0,0,0) 15px,#2b2b2f 15px,#2b2b2f 18px) 0 0/18px 2px;"></div>
<div id="t60" style="position:absolute;will-change:transform;top:1365.7px;height:60px;line-height:60px;font-size:24.40px;color:#5e5e63;white-space:pre;letter-spacing:0.300px;right:1592.5px;text-align:right;margin-right:-0.300px;">9</div>
<div style="position:absolute;left:2280.0px;top:1394.2px;width:796.0px;height:2.0px;background:repeating-linear-gradient(90deg,#2b2b2f 0,#2b2b2f 5px,rgba(0,0,0,0) 5px,rgba(0,0,0,0) 15px,#2b2b2f 15px,#2b2b2f 18px) 0 0/18px 2px;"></div>
<div id="t61" style="position:absolute;will-change:transform;top:1411.4px;height:60px;line-height:60px;font-size:24.40px;color:#5e5e63;white-space:pre;letter-spacing:0.300px;right:1592.5px;text-align:right;margin-right:-0.300px;">6</div>
<div style="position:absolute;left:2280.0px;top:1439.9px;width:796.0px;height:2.0px;background:repeating-linear-gradient(90deg,#2b2b2f 0,#2b2b2f 5px,rgba(0,0,0,0) 5px,rgba(0,0,0,0) 15px,#2b2b2f 15px,#2b2b2f 18px) 0 0/18px 2px;"></div>
<div id="t62" style="position:absolute;will-change:transform;top:1457.1px;height:60px;line-height:60px;font-size:24.40px;color:#5e5e63;white-space:pre;letter-spacing:0.300px;right:1592.5px;text-align:right;margin-right:-0.300px;">3</div>
<div style="position:absolute;left:2280.0px;top:1485.6px;width:796.0px;height:2.0px;background:repeating-linear-gradient(90deg,#2b2b2f 0,#2b2b2f 5px,rgba(0,0,0,0) 5px,rgba(0,0,0,0) 15px,#2b2b2f 15px,#2b2b2f 18px) 0 0/18px 2px;"></div>
<div id="t63" style="position:absolute;will-change:transform;top:1502.9px;height:60px;line-height:60px;font-size:24.40px;color:#5e5e63;white-space:pre;letter-spacing:0.300px;right:1592.5px;text-align:right;margin-right:-0.300px;">0</div>
<div style="position:absolute;left:2280.0px;top:1531.4px;width:796.0px;height:2.0px;background:repeating-linear-gradient(90deg,#2b2b2f 0,#2b2b2f 5px,rgba(0,0,0,0) 5px,rgba(0,0,0,0) 15px,#2b2b2f 15px,#2b2b2f 18px) 0 0/18px 2px;"></div>
<div id="t64" style="position:absolute;will-change:transform;top:1548.6px;height:60px;line-height:60px;font-size:24.40px;color:#5e5e63;white-space:pre;letter-spacing:0.300px;right:1592.5px;text-align:right;margin-right:-0.300px;">-3</div>
<div style="position:absolute;left:2280.0px;top:1577.1px;width:796.0px;height:2.0px;background:repeating-linear-gradient(90deg,#2b2b2f 0,#2b2b2f 5px,rgba(0,0,0,0) 5px,rgba(0,0,0,0) 15px,#2b2b2f 15px,#2b2b2f 18px) 0 0/18px 2px;"></div>
<div id="t65" style="position:absolute;will-change:transform;top:1594.3px;height:60px;line-height:60px;font-size:24.40px;color:#5e5e63;white-space:pre;letter-spacing:0.300px;right:1592.5px;text-align:right;margin-right:-0.300px;">-6</div>
<div style="position:absolute;left:2280.0px;top:1622.8px;width:796.0px;height:2.0px;background:repeating-linear-gradient(90deg,#2b2b2f 0,#2b2b2f 5px,rgba(0,0,0,0) 5px,rgba(0,0,0,0) 15px,#2b2b2f 15px,#2b2b2f 18px) 0 0/18px 2px;"></div>
<div id="t66" style="position:absolute;will-change:transform;top:1640.0px;height:60px;line-height:60px;font-size:24.40px;color:#5e5e63;white-space:pre;letter-spacing:0.300px;right:1592.5px;text-align:right;margin-right:-0.300px;">-9</div>
<div style="position:absolute;left:2280.0px;top:1668.5px;width:796.0px;height:2.0px;background:repeating-linear-gradient(90deg,#2b2b2f 0,#2b2b2f 5px,rgba(0,0,0,0) 5px,rgba(0,0,0,0) 15px,#2b2b2f 15px,#2b2b2f 18px) 0 0/18px 2px;"></div>
<div id="t67" style="position:absolute;will-change:transform;top:1695.6px;height:60px;line-height:60px;font-size:24.40px;color:#5e5e63;white-space:pre;letter-spacing:1.822px;left:2279.00px;">09-06-2023</div>
<div id="t68" style="position:absolute;will-change:transform;top:1695.6px;height:60px;line-height:60px;font-size:24.40px;color:#5e5e63;white-space:pre;letter-spacing:1.822px;right:764.0px;text-align:right;margin-right:-1.822px;">15-06-2023</div>
<div style="position:absolute;left:2304.0px;top:1524.0px;width:64.0px;height:10.0px;background:#00b2b8;"></div>
<div style="position:absolute;left:2418.0px;top:1406.0px;width:64.0px;height:128.0px;background:#00b2b8;"></div>
<div style="position:absolute;left:2532.0px;top:1534.0px;width:64.0px;height:79.5px;background:#ff7390;"></div>
<div style="position:absolute;left:2646.0px;top:1534.0px;width:64.0px;height:26.0px;background:#ff7390;"></div>
<div style="position:absolute;left:2760.0px;top:1482.0px;width:64.0px;height:52.0px;background:#00b2b8;"></div>
<div style="position:absolute;left:2874.0px;top:1534.0px;width:64.0px;height:52.0px;background:#ff7390;"></div>
<div style="position:absolute;left:2988.0px;top:1464.0px;width:64.0px;height:70.0px;background:#00b2b8;"></div>
<div style="position:absolute;left:2548.0px;top:680.0px;width:552.0px;height:736.0px;box-sizing:border-box;border-radius:24px;border:2px solid transparent;background:linear-gradient(#1c1c1f,#1c1c1f) padding-box,linear-gradient(180deg,#2d2d31 0%,#252529 30%,#202023 100%) border-box;box-shadow:0 8px 14px rgba(10,10,12,0.5),0 0 48px rgba(10,10,12,0.3);"></div>
<svg style="left:0;top:0" width="3840" height="2160"><path d="M2610.4 730.8 L2604.9 736.2 L2610.4 741.6" fill="none" stroke="#c4c4c9" stroke-width="2" stroke-linecap="round" stroke-linejoin="round"/></svg>
<div id="t69" style="position:absolute;will-change:transform;top:706.0px;height:60px;line-height:60px;font-size:24.40px;color:#b4b4ba;white-space:pre;letter-spacing:1.000px;left:2533.0px;width:400px;text-align:center;text-indent:1.000px;">Nov</div>
<div id="t70" style="position:absolute;will-change:transform;top:706.0px;height:60px;line-height:60px;font-size:24.40px;color:#ececee;white-space:pre;letter-spacing:1.667px;left:2713.8px;width:400px;text-align:center;text-indent:1.667px;">2023</div>
<div style="position:absolute;left:3012.0px;top:712.0px;width:56.0px;height:48.0px;border-radius:8px;background:#2a2a2e;"></div>
<svg style="left:0;top:0" width="3840" height="2160"><path d="M3036.4 730.8 L3042 736.2 L3036.4 741.6" fill="none" stroke="#ffffff" stroke-width="2" stroke-linecap="round" stroke-linejoin="round"/></svg>
<div id="t71" style="position:absolute;will-change:transform;top:774.0px;height:60px;line-height:60px;font-size:24.40px;color:#8a8a90;white-space:pre;left:2408.0px;width:400px;text-align:center;text-indent:0.000px;">M</div>
<div id="t72" style="position:absolute;will-change:transform;top:774.0px;height:60px;line-height:60px;font-size:24.40px;color:#8a8a90;white-space:pre;left:2480.0px;width:400px;text-align:center;text-indent:0.000px;">T</div>
<div id="t73" style="position:absolute;will-change:transform;top:774.0px;height:60px;line-height:60px;font-size:24.40px;color:#8a8a90;white-space:pre;left:2552.0px;width:400px;text-align:center;text-indent:0.000px;">W</div>
<div id="t74" style="position:absolute;will-change:transform;top:774.0px;height:60px;line-height:60px;font-size:24.40px;color:#8a8a90;white-space:pre;left:2624.0px;width:400px;text-align:center;text-indent:0.000px;">T</div>
<div id="t75" style="position:absolute;will-change:transform;top:774.0px;height:60px;line-height:60px;font-size:24.40px;color:#8a8a90;white-space:pre;left:2696.0px;width:400px;text-align:center;text-indent:0.000px;">F</div>
<div id="t76" style="position:absolute;will-change:transform;top:774.0px;height:60px;line-height:60px;font-size:24.40px;color:#8a8a90;white-space:pre;left:2768.0px;width:400px;text-align:center;text-indent:0.000px;">S</div>
<div id="t77" style="position:absolute;will-change:transform;top:774.0px;height:60px;line-height:60px;font-size:24.40px;color:#8a8a90;white-space:pre;left:2840.0px;width:400px;text-align:center;text-indent:0.000px;">S</div>
<div style="position:absolute;left:2572.0px;top:839.0px;width:500.0px;height:2.0px;background:#28282c;"></div>
<div style="position:absolute;left:2752.0px;top:1008.0px;width:316.0px;height:48.0px;border-radius:0 8px 8px 0;background:#2d2d31;"></div>
<div style="position:absolute;left:2580.0px;top:1080.0px;width:172.0px;height:48.0px;border-radius:8px 0 0 8px;background:#2d2d31;"></div>
<div style="position:absolute;left:2724.0px;top:1008.0px;width:56.0px;height:48.0px;border-radius:8px;background:#0558f5;"></div>
<div style="position:absolute;left:2724.0px;top:1080.0px;width:56.0px;height:48.0px;border-radius:8px;background:#0558f5;"></div>
<div style="position:absolute;left:2600.0px;top:980.0px;width:16.0px;height:4.0px;border-radius:2px;background:#0558f5;"></div>
<div id="t78" style="position:absolute;will-change:transform;top:857.5px;height:60px;line-height:60px;font-size:24.40px;color:#7a7a80;white-space:pre;letter-spacing:1.500px;left:2408.0px;width:400px;text-align:center;text-indent:1.500px;">30</div>
<div id="t79" style="position:absolute;will-change:transform;top:857.5px;height:60px;line-height:60px;font-size:24.40px;color:#7a7a80;white-space:pre;letter-spacing:1.500px;left:2480.0px;width:400px;text-align:center;text-indent:1.500px;">31</div>
<div id="t80" style="position:absolute;will-change:transform;top:857.5px;height:60px;line-height:60px;font-size:24.40px;color:#b4b4ba;white-space:pre;left:2552.0px;width:400px;text-align:center;text-indent:0.000px;">1</div>
<div id="t81" style="position:absolute;will-change:transform;top:857.5px;height:60px;line-height:60px;font-size:24.40px;color:#b4b4ba;white-space:pre;left:2624.0px;width:400px;text-align:center;text-indent:0.000px;">2</div>
<div id="t82" style="position:absolute;will-change:transform;top:857.5px;height:60px;line-height:60px;font-size:24.40px;color:#b4b4ba;white-space:pre;left:2696.0px;width:400px;text-align:center;text-indent:0.000px;">3</div>
<div id="t83" style="position:absolute;will-change:transform;top:857.5px;height:60px;line-height:60px;font-size:24.40px;color:#b4b4ba;white-space:pre;left:2768.0px;width:400px;text-align:center;text-indent:0.000px;">4</div>
<div id="t84" style="position:absolute;will-change:transform;top:857.5px;height:60px;line-height:60px;font-size:24.40px;color:#b4b4ba;white-space:pre;left:2840.0px;width:400px;text-align:center;text-indent:0.000px;">5</div>
<div id="t85" style="position:absolute;will-change:transform;top:929.5px;height:60px;line-height:60px;font-size:24.40px;color:#b4b4ba;white-space:pre;left:2408.0px;width:400px;text-align:center;text-indent:0.000px;">6</div>
<div id="t86" style="position:absolute;will-change:transform;top:929.5px;height:60px;line-height:60px;font-size:24.40px;color:#b4b4ba;white-space:pre;left:2480.0px;width:400px;text-align:center;text-indent:0.000px;">7</div>
<div id="t87" style="position:absolute;will-change:transform;top:929.5px;height:60px;line-height:60px;font-size:24.40px;color:#b4b4ba;white-space:pre;left:2552.0px;width:400px;text-align:center;text-indent:0.000px;">8</div>
<div id="t88" style="position:absolute;will-change:transform;top:929.5px;height:60px;line-height:60px;font-size:24.40px;color:#b4b4ba;white-space:pre;left:2624.0px;width:400px;text-align:center;text-indent:0.000px;">9</div>
<div id="t89" style="position:absolute;will-change:transform;top:929.5px;height:60px;line-height:60px;font-size:24.40px;color:#b4b4ba;white-space:pre;letter-spacing:1.500px;left:2696.0px;width:400px;text-align:center;text-indent:1.500px;">10</div>
<div id="t90" style="position:absolute;will-change:transform;top:929.5px;height:60px;line-height:60px;font-size:24.40px;color:#b4b4ba;white-space:pre;letter-spacing:1.500px;left:2768.0px;width:400px;text-align:center;text-indent:1.500px;">11</div>
<div id="t91" style="position:absolute;will-change:transform;top:929.5px;height:60px;line-height:60px;font-size:24.40px;color:#b4b4ba;white-space:pre;letter-spacing:1.500px;left:2840.0px;width:400px;text-align:center;text-indent:1.500px;">12</div>
<div id="t92" style="position:absolute;will-change:transform;top:1001.5px;height:60px;line-height:60px;font-size:24.40px;color:#b4b4ba;white-space:pre;letter-spacing:1.500px;left:2408.0px;width:400px;text-align:center;text-indent:1.500px;">13</div>
<div id="t93" style="position:absolute;will-change:transform;top:1001.5px;height:60px;line-height:60px;font-size:24.40px;color:#b4b4ba;white-space:pre;letter-spacing:1.500px;left:2480.0px;width:400px;text-align:center;text-indent:1.500px;">14</div>
<div id="t94" style="position:absolute;will-change:transform;top:1001.5px;height:60px;line-height:60px;font-size:24.40px;color:#ffffff;white-space:pre;letter-spacing:1.500px;left:2552.0px;width:400px;text-align:center;text-indent:1.500px;">15</div>
<div id="t95" style="position:absolute;will-change:transform;top:1001.5px;height:60px;line-height:60px;font-size:24.40px;color:#f4f4f5;white-space:pre;letter-spacing:1.500px;left:2624.0px;width:400px;text-align:center;text-indent:1.500px;">16</div>
<div id="t96" style="position:absolute;will-change:transform;top:1001.5px;height:60px;line-height:60px;font-size:24.40px;color:#f4f4f5;white-space:pre;letter-spacing:1.500px;left:2696.0px;width:400px;text-align:center;text-indent:1.500px;">17</div>
<div id="t97" style="position:absolute;will-change:transform;top:1001.5px;height:60px;line-height:60px;font-size:24.40px;color:#f4f4f5;white-space:pre;letter-spacing:1.500px;left:2768.0px;width:400px;text-align:center;text-indent:1.500px;">18</div>
<div id="t98" style="position:absolute;will-change:transform;top:1001.5px;height:60px;line-height:60px;font-size:24.40px;color:#f4f4f5;white-space:pre;letter-spacing:1.500px;left:2840.0px;width:400px;text-align:center;text-indent:1.500px;">19</div>
<div id="t99" style="position:absolute;will-change:transform;top:1073.5px;height:60px;line-height:60px;font-size:24.40px;color:#f4f4f5;white-space:pre;letter-spacing:1.500px;left:2408.0px;width:400px;text-align:center;text-indent:1.500px;">20</div>
<div id="t100" style="position:absolute;will-change:transform;top:1073.5px;height:60px;line-height:60px;font-size:24.40px;color:#f4f4f5;white-space:pre;letter-spacing:1.500px;left:2480.0px;width:400px;text-align:center;text-indent:1.500px;">21</div>
<div id="t101" style="position:absolute;will-change:transform;top:1073.5px;height:60px;line-height:60px;font-size:24.40px;color:#ffffff;white-space:pre;letter-spacing:1.500px;left:2552.0px;width:400px;text-align:center;text-indent:1.500px;">22</div>
<div id="t102" style="position:absolute;will-change:transform;top:1073.5px;height:60px;line-height:60px;font-size:24.40px;color:#b4b4ba;white-space:pre;letter-spacing:1.500px;left:2624.0px;width:400px;text-align:center;text-indent:1.500px;">23</div>
<div id="t103" style="position:absolute;will-change:transform;top:1073.5px;height:60px;line-height:60px;font-size:24.40px;color:#b4b4ba;white-space:pre;letter-spacing:1.500px;left:2696.0px;width:400px;text-align:center;text-indent:1.500px;">24</div>
<div id="t104" style="position:absolute;will-change:transform;top:1073.5px;height:60px;line-height:60px;font-size:24.40px;color:#f4f4f5;white-space:pre;letter-spacing:1.500px;left:2768.0px;width:400px;text-align:center;text-indent:1.500px;">25</div>
<div id="t105" style="position:absolute;will-change:transform;top:1073.5px;height:60px;line-height:60px;font-size:24.40px;color:#b4b4ba;white-space:pre;letter-spacing:1.500px;left:2840.0px;width:400px;text-align:center;text-indent:1.500px;">26</div>
<div id="t106" style="position:absolute;will-change:transform;top:1145.5px;height:60px;line-height:60px;font-size:24.40px;color:#b4b4ba;white-space:pre;letter-spacing:1.500px;left:2408.0px;width:400px;text-align:center;text-indent:1.500px;">27</div>
<div id="t107" style="position:absolute;will-change:transform;top:1145.5px;height:60px;line-height:60px;font-size:24.40px;color:#b4b4ba;white-space:pre;letter-spacing:1.500px;left:2480.0px;width:400px;text-align:center;text-indent:1.500px;">28</div>
<div id="t108" style="position:absolute;will-change:transform;top:1145.5px;height:60px;line-height:60px;font-size:24.40px;color:#b4b4ba;white-space:pre;letter-spacing:1.500px;left:2552.0px;width:400px;text-align:center;text-indent:1.500px;">29</div>
<div id="t109" style="position:absolute;will-change:transform;top:1145.5px;height:60px;line-height:60px;font-size:24.40px;color:#b4b4ba;white-space:pre;letter-spacing:1.500px;left:2624.0px;width:400px;text-align:center;text-indent:1.500px;">30</div>
<div id="t110" style="position:absolute;will-change:transform;top:1145.5px;height:60px;line-height:60px;font-size:24.40px;color:#7a7a80;white-space:pre;left:2696.0px;width:400px;text-align:center;text-indent:0.000px;">1</div>
<div id="t111" style="position:absolute;will-change:transform;top:1145.5px;height:60px;line-height:60px;font-size:24.40px;color:#7a7a80;white-space:pre;left:2768.0px;width:400px;text-align:center;text-indent:0.000px;">2</div>
<div id="t112" style="position:absolute;will-change:transform;top:1145.5px;height:60px;line-height:60px;font-size:24.40px;color:#7a7a80;white-space:pre;left:2840.0px;width:400px;text-align:center;text-indent:0.000px;">3</div>
<div style="position:absolute;left:2572.0px;top:1248.0px;width:504.0px;height:56.0px;border-radius:8px;background:#232326;"></div>
<div id="t113" style="position:absolute;will-change:transform;top:1245.5px;height:60px;line-height:60px;font-size:24.40px;color:#77777d;white-space:pre;letter-spacing:0.400px;left:2614.50px;">Range:</div>
<div id="t114" style="position:absolute;will-change:transform;top:1245.5px;height:60px;line-height:60px;font-size:24.40px;color:#b4b4ba;white-space:pre;letter-spacing:0.646px;left:2702.60px;">Nov 15, 2023 - Nov 20, 2023</div>
<div style="position:absolute;left:2572.0px;top:1336.0px;width:128.0px;height:56.0px;box-sizing:border-box;border-radius:13px;border:2px solid #2b2b2f;background:#1c1c1f;"></div>
<div id="t115" style="position:absolute;will-change:transform;top:1333.5px;height:60px;line-height:60px;font-size:24.40px;color:#c2c2c7;white-space:pre;letter-spacing:0.600px;left:2595.80px;">Cancel</div>
<div style="position:absolute;left:2956.0px;top:1336.0px;width:120.0px;height:56.0px;border-radius:13px;background:linear-gradient(180deg,#1568fa 0%,#0757ee 100%);box-shadow:inset 0 1.5px 0 rgba(255,255,255,0.18);"></div>
<div id="t116" style="position:absolute;will-change:transform;top:1333.5px;height:60px;line-height:60px;font-size:24.40px;color:#ffffff;white-space:pre;letter-spacing:0.400px;left:2980.00px;">Select</div>
<svg style="left:3038.5px;top:744.5px" width="37.4" height="44" viewBox="0 0 34 40">
<path d="M10.2 3.2 C10.2 1.4 11.6 0.9 12.8 0.9 C14 0.9 15.4 1.6 15.4 3.2 L15.4 15.2 C16 14.2 19.4 14.2 19.8 16 C20.6 15 23.8 15.2 24.2 17 C25.2 16.2 28.4 16.6 28.4 19.4 L28.4 27 C28.4 30.6 27 32.2 26.2 34 L26.2 37.4 L12.6 37.4 L12.6 34.4 C10 31.6 6.2 27.4 3.2 23.6 C1.8 21.6 4.2 19.2 6.6 21 L10.2 24.2 Z" fill="#ffffff" stroke="#111113" stroke-width="1.8" stroke-linejoin="round"/>
<path d="M16.6 25.4 V32.4 M20.2 25.4 V32.4 M23.8 25.4 V32.4" fill="none" stroke="#111113" stroke-width="1.8"/>
</svg>
</body></html>
